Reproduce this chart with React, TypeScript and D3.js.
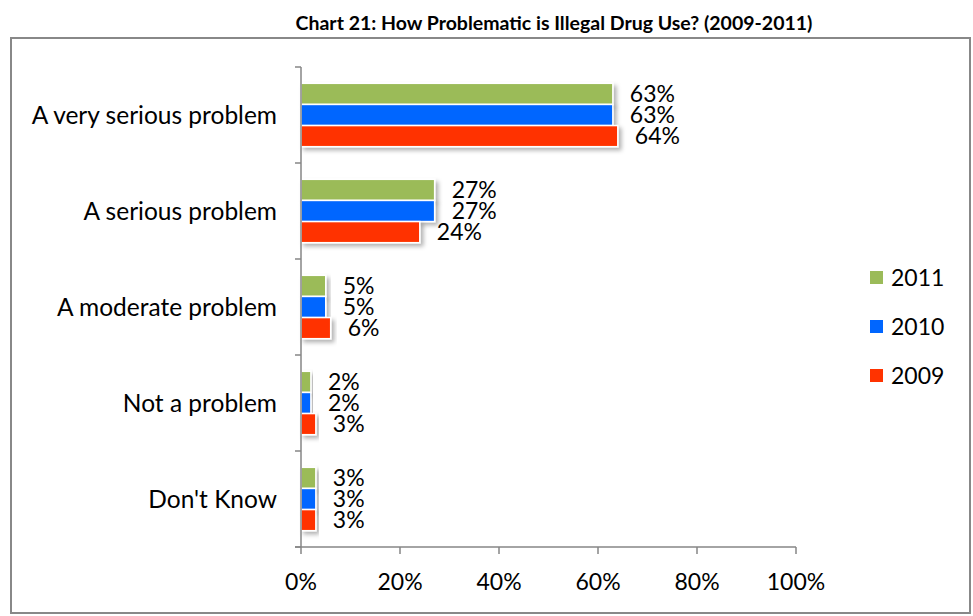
import React from "react";
import * as d3 from "d3";

const categories = ["A very serious problem", "A serious problem", "A moderate problem", "Not a problem", "Don't Know"];
const seriesNames = ["2011", "2010", "2009"];
const seriesColors = ["#9BBB59", "#0066FF", "#FF3300"];
const values2011 = [63, 27, 5, 2, 3];
const values2010 = [63, 27, 5, 2, 3];
const values2009 = [64, 24, 6, 3, 3];
const xTicks = [0, 20, 40, 60, 80, 100];
const title = "Chart 21: How Problematic is Illegal Drug Use? (2009-2011)";

const W = 973;
const H = 616;
const FONT = "Lato, 'Open Sans', sans-serif";

export default function App() {
  const series = [values2011, values2010, values2009];
  const x = d3.scaleLinear().domain([0, 100]).range([301, 796]);
  const y = d3.scaleBand<string>().domain(categories).range([67, 547]).paddingInner(0.34).paddingOuter(0.17);
  const yInner = d3.scaleBand<string>().domain(seriesNames).range([0, y.bandwidth()]);
  const step = y.step();
  const axisColor = "#868686";
  const boundaries = d3.range(categories.length + 1).map((i) => 67 + i * step);

  return (
    <svg width={W} height={H} style={{ position: "absolute", left: 0, top: 0 }}>
      <defs>
        <filter id="sh" x="-10%" y="-30%" width="130%" height="180%">
          <feDropShadow dx="3" dy="3" stdDeviation="2" floodColor="#000" floodOpacity="0.3" />
        </filter>
      </defs>
      <rect x={0} y={0} width={W} height={H} fill="#fff" />
      <text x={554} y={30} textAnchor="middle" fontFamily={FONT} fontWeight="bold" fontSize={19.5} fill="#000">
        {title}
      </text>
      <rect x={11} y={38} width={959} height={575} fill="none" stroke="#888" strokeWidth={2} />

      {/* bars */}
      {categories.map((c, ci) => (
        <g key={c}>
          {seriesNames.map((s, si) => {
            const v = series[si][ci];
            const by = (y(c) as number) + (yInner(s) as number);
            const bh = yInner.bandwidth();
            return (
              <g key={s}>
                <rect
                  x={x(0)}
                  y={by}
                  width={x(v) - x(0)}
                  height={bh}
                  fill={seriesColors[si]}
                  stroke="#fff"
                  strokeWidth={1.5}
                  filter="url(#sh)"
                />
                <text
                  x={x(v) + 17}
                  y={by + bh / 2}
                  dy="0.36em"
                  fontFamily={FONT}
                  fontSize={23}
                  fill="#000"
                >
                  {v}%
                </text>
              </g>
            );
          })}
          <text
            x={277}
            y={(y(c) as number) + y.bandwidth() / 2}
            dy="0.36em"
            textAnchor="end"
            fontFamily={FONT}
            fontSize={24.5}
            fill="#000"
          >
            {c}
          </text>
        </g>
      ))}

      {/* y axis */}
      <line x1={x(0)} x2={x(0)} y1={67} y2={547} stroke={axisColor} strokeWidth={1.5} />
      {boundaries.map((b, i) => (
        <line key={i} x1={x(0) - 6} x2={x(0)} y1={b} y2={b} stroke={axisColor} strokeWidth={1.5} />
      ))}

      {/* x axis */}
      <line x1={x(0) - 6} x2={x(100)} y1={547} y2={547} stroke={axisColor} strokeWidth={1.5} />
      {xTicks.map((t) => (
        <g key={t}>
          <line x1={x(t)} x2={x(t)} y1={547} y2={554} stroke={axisColor} strokeWidth={1.5} />
          <text x={x(t)} y={590} textAnchor="middle" fontFamily={FONT} fontSize={23} fill="#000">
            {t}%
          </text>
        </g>
      ))}

      {/* legend */}
      {seriesNames.map((s, i) => (
        <g key={s}>
          <rect x={870} y={271 + i * 49} width={13} height={13} fill={seriesColors[i]} />
          <text x={891} y={277.5 + i * 49} dy="0.36em" fontFamily={FONT} fontSize={23} fill="#000">
            {s}
          </text>
        </g>
      ))}
    </svg>
  );
}
